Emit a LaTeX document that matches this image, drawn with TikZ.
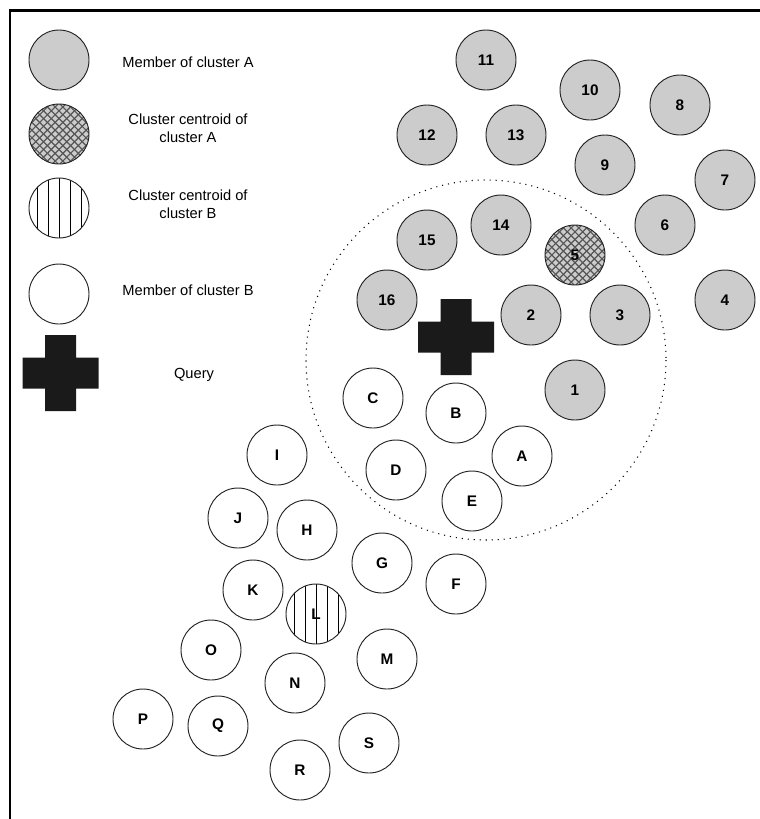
\documentclass[tikz,border=0pt]{standalone}
\usepackage{fontspec}
\setmainfont{Liberation Sans}
\definecolor{membergray}{RGB}{204,204,204}
\definecolor{edgegray}{RGB}{34,34,34}
\definecolor{hatchgray}{RGB}{85,85,85}
\definecolor{querydark}{RGB}{26,26,26}
% the black plus sign that marks the query
\newcommand{\querymark}[1]{%
  \fill [querydark, shift={#1}] (-15.5,-38) -- (15.5,-38) -- (15.5,-15.5) -- (38,-15.5) -- (38,15.5) -- (15.5,15.5) -- (15.5,38) -- (-15.5,38) -- (-15.5,15.5) -- (-38,15.5) -- (-38,-15.5) -- (-15.5,-15.5) -- cycle ;}
\begin{document}
\begin{tikzpicture}[x=0.75pt,y=0.75pt,yscale=-1,xscale=1,
  ball/.style={circle, draw=edgegray, line width=0.7pt, minimum size=45pt, inner sep=0pt, font=\bfseries\fontsize{11.5}{13}\selectfont},
  memberA/.style={ball, fill=membergray},
  memberB/.style={ball, fill=white},
  centroidA/.style={memberA, path picture={
    \foreach \k in {-10,...,10} {
      \draw [hatchgray, line width=0.85pt] ([xshift={\k*5.8pt}]path picture bounding box.center) ++(-30pt,-30pt) -- ++(60pt,60pt) ;
      \draw [hatchgray, line width=0.85pt] ([xshift={\k*5.8pt}]path picture bounding box.center) ++(-30pt,30pt) -- ++(60pt,-60pt) ;
    }}},
  centroidB/.style={memberB, path picture={
    \foreach \k in {-2,...,2}
      \draw [black, line width=0.7pt] ([xshift={\k*8.25pt}]path picture bounding box.north) -- ([xshift={\k*8.25pt}]path picture bounding box.south) ;
    }},
  legendtext/.style={align=center, font=\fontsize{11}{13.5}\selectfont}]
\useasboundingbox (0,0) rectangle (760,819);

%Frame
\draw [line width=1.6pt] (760,10.5) -- (10,10.5) -- (10,819) ;

%Legend
\node [memberA] (keyA) at (59,60) {};
\node [centroidA] (keyCA) at (59,134) {};
\node [centroidB] (keyCB) at (59,208) {};
\node [memberB] (keyB) at (59,294) {};
\coordinate (keyQ) at (60.5,373);
\querymark{(keyQ)}

% Text Node
\node [legendtext] (txtA) at (188,62) {Member of cluster A};
% Text Node
\node [legendtext] (txtCA) at (188,128) {Cluster centroid of\\cluster A};
% Text Node
\node [legendtext] (txtCB) at (188,204) {Cluster centroid of\\cluster B};
% Text Node
\node [legendtext] (txtB) at (188,290) {Member of cluster B};
% Text Node
\node [legendtext] (txtQ) at (194,375) {Query};

%Neighbourhood of the query
\draw [line width=0.8pt, dash pattern=on 0.8pt off 3.7pt] (486,360) circle [radius=180] ;

%Cluster A
\node [memberA] (a11) at (486,60) {11};
\node [memberA] (a10) at (590,90) {10};
\node [memberA] (a8) at (680,105) {8};
\node [memberA] (a12) at (427,135) {12};
\node [memberA] (a13) at (516,135) {13};
\node [memberA] (a9) at (605,165) {9};
\node [memberA] (a7) at (725,180) {7};
\node [memberA] (a15) at (427,240) {15};
\node [memberA] (a14) at (501,225) {14};
\node [centroidA] (a5) at (575,255) {5};
\node [memberA] (a6) at (665,225) {6};
\node [memberA] (a16) at (387,300) {16};
\node [memberA] (a2) at (531,315) {2};
\node [memberA] (a3) at (620,315) {3};
\node [memberA] (a4) at (725,300) {4};
\node [memberA] (a1) at (575,390) {1};

%Query
\coordinate (query) at (456,337);
\querymark{(query)}

%Cluster B
\node [memberB] (bC) at (373,398) {C};
\node [memberB] (bB) at (456,413) {B};
\node [memberB] (bA) at (522,456) {A};
\node [memberB] (bD) at (396,470) {D};
\node [memberB] (bE) at (472,501) {E};
\node [memberB] (bI) at (277,455) {I};
\node [memberB] (bJ) at (238,518) {J};
\node [memberB] (bH) at (307,530) {H};
\node [memberB] (bG) at (382,563) {G};
\node [memberB] (bF) at (456,584) {F};
\node [memberB] (bK) at (253,590) {K};
\node [centroidB] (bL) at (316,614) {L};
\node [memberB] (bO) at (211,650) {O};
\node [memberB] (bM) at (387,659) {M};
\node [memberB] (bN) at (295,683) {N};
\node [memberB] (bP) at (143,719) {P};
\node [memberB] (bQ) at (218,726) {Q};
\node [memberB] (bR) at (300,770) {R};
\node [memberB] (bS) at (369,743) {S};

\end{tikzpicture}
\end{document}
